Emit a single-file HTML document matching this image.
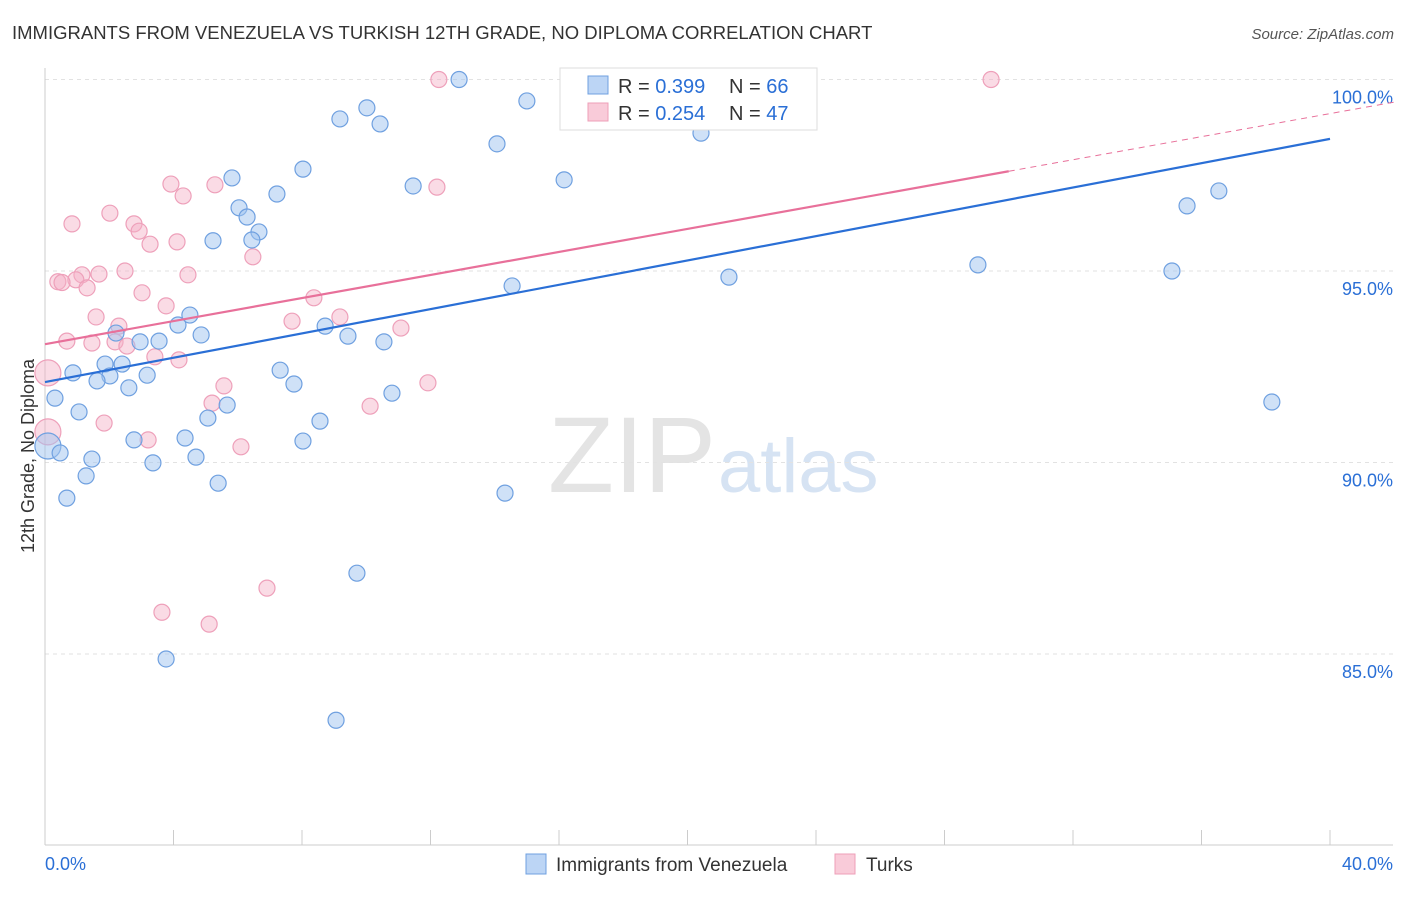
<!DOCTYPE html>
<html><head><meta charset="utf-8"><style>
body{margin:0;background:#fff;font-family:"Liberation Sans",sans-serif;}
svg text{font-family:"Liberation Sans",sans-serif;}
</style></head><body>
<svg id="chart" width="1406" height="892" xmlns="http://www.w3.org/2000/svg">
<text x="12" y="39" font-size="18.5" fill="#333">IMMIGRANTS FROM VENEZUELA VS TURKISH 12TH GRADE, NO DIPLOMA CORRELATION CHART</text>
<text x="1394" y="39" font-size="15" fill="#555" text-anchor="end" font-style="italic">Source: ZipAtlas.com</text>
<text transform="translate(34,456) rotate(-90)" font-size="18" fill="#333" text-anchor="middle">12th Grade, No Diploma</text>
<text x="716" y="492" font-size="108" fill="#e4e4e4" text-anchor="end" font-family="Liberation Serif">ZIP</text>
<text x="718" y="492" font-size="76" fill="#d6e3f3">atlas</text>
<g id="grid"></g><g id="axes"></g><g id="pts"></g><g id="lines"></g>
<g>
<rect x="560" y="68" width="257" height="62" fill="#fff" stroke="#ddd"/>
<rect x="588" y="76" width="20" height="18" fill="#bcd5f5" stroke="#6fa0e0"/>
<text x="618" y="93" font-size="20" fill="#333">R = <tspan fill="#2a6fd6">0.399</tspan></text>
<text x="729" y="93" font-size="20" fill="#333">N = <tspan fill="#2a6fd6">66</tspan></text>
<rect x="588" y="103" width="20" height="18" fill="#f9cbd9" stroke="#ee9fb8"/>
<text x="618" y="120" font-size="20" fill="#333">R = <tspan fill="#2a6fd6">0.254</tspan></text>
<text x="729" y="120" font-size="20" fill="#333">N = <tspan fill="#2a6fd6">47</tspan></text>
</g>
<g>
<rect x="526" y="854" width="20" height="20" fill="#bcd5f5" stroke="#6fa0e0"/>
<text x="556" y="871" font-size="19" fill="#333">Immigrants from Venezuela</text>
<rect x="835" y="854" width="20" height="20" fill="#f9cbd9" stroke="#ee9fb8"/>
<text x="866" y="871" font-size="19" fill="#333">Turks</text>
</g>
</svg>
<script>
const yTicks=[100,95,90,85];
const yTickLabels=["100.0%","95.0%","90.0%","85.0%"];
const xTickLabels=["0.0%","40.0%"];
const blueX=[12.89,21.91,17.21,15.0,10.02,9.18,10.43,14.07,20.42,8.03,5.82,11.46,16.16,7.22,6.04,6.29,6.66,6.44,5.23,36.54,35.55,29.04,21.29,35.08,14.54,4.51,4.14,4.86,2.21,3.55,2.96,8.72,9.43,10.55,1.87,2.40,0.87,2.02,1.62,3.18,7.32,2.61,7.75,0.31,10.80,5.67,1.06,5.07,38.19,8.56,2.77,4.36,8.03,0.09,0.47,1.46,3.36,4.70,1.28,5.39,0.68,14.32,9.71,3.77,9.06];
const blueY=[100,100,100,99.44,99.26,98.97,98.84,98.32,98.60,97.66,97.43,97.22,97.38,97.01,96.65,96.41,96.02,95.81,95.79,97.09,96.70,95.16,94.84,95.0,94.61,93.85,93.59,93.33,93.38,93.17,93.15,93.56,93.30,93.15,92.57,92.57,92.34,92.26,92.13,92.28,92.41,91.95,92.05,91.68,91.81,91.50,91.32,91.16,91.58,91.08,90.59,90.64,90.56,90.43,90.25,90.09,89.99,90.14,89.65,89.46,89.07,89.20,87.11,84.87,83.27];
const pinkX=[12.26,29.45,3.92,5.29,12.20,4.30,2.02,0.84,2.77,2.93,4.11,3.27,6.47,2.49,1.68,1.15,4.45,0.40,0.96,0.53,1.31,3.02,8.37,3.77,1.59,7.69,9.18,2.30,11.08,0.68,2.18,2.55,1.46,3.42,4.17,0.09,5.57,11.92,5.20,10.12,1.84,0.09,3.21,6.10,6.91,3.64,5.11];
const pinkY=[100,100,97.27,97.25,97.19,96.96,96.51,96.23,96.23,96.04,95.76,95.70,95.37,95.0,94.92,94.9,94.9,94.72,94.77,94.70,94.56,94.43,94.30,94.09,93.80,93.69,93.80,93.56,93.51,93.17,93.15,93.04,93.12,92.76,92.68,92.34,92.0,92.08,91.55,91.47,91.03,90.80,90.59,90.41,86.72,86.09,85.78];
const blueLine=[92.1,98.45];
const pinkLine=[93.09,99.41];
const NS="http://www.w3.org/2000/svg";
const sx=v=>45+v*32.125, sy=v=>79.5+(100-v)*38.3;
function mk(p,tag,a){const e=document.createElementNS(NS,tag);for(const k in a)e.setAttribute(k,a[k]);p.appendChild(e);return e;}
const grid=document.getElementById('grid'),axes=document.getElementById('axes'),pts=document.getElementById('pts'),lines=document.getElementById('lines');
yTicks.forEach((t,i)=>{
 const l=mk(grid,'line',{x1:45,x2:1393,y1:sy(t),y2:sy(t),stroke:'#e2e2e2','stroke-dasharray':'4,4'});
 
 
 const tx=mk(axes,'text',{x:1393,y:sy(t)+24,'font-size':18,fill:'#2a6fd6','text-anchor':'end'});tx.textContent=yTickLabels[i];
 
 
});
const ya=mk(axes,'line',{x1:45,x2:45,y1:68,y2:845,stroke:'#ccc'});


const xa=mk(axes,'line',{x1:45,x2:1393,y1:845,y2:845,stroke:'#ccc'});


for(let i=0;i<=10;i++){const t=mk(axes,'line',{x1:sx(i*4),x2:sx(i*4),y1:830,y2:845,stroke:'#ccc'});
 
 }
[[0,'start',45],[40,'end',1393]].forEach((d,i)=>{const t=mk(axes,'text',{x:d[2],y:870,'font-size':18,fill:'#2a6fd6','text-anchor':d[1]});t.textContent=xTickLabels[i];
 
 });
function dots(X,Y,fill,stroke,name){X.forEach((x,i)=>{const r=(x<0.2)?13:8;
 const c=mk(pts,'circle',{cx:sx(x),cy:sy(Y[i]),r:r,fill:fill,stroke:stroke,'stroke-width':1.2});
 
 });}
dots(pinkX,pinkY,'rgba(245,175,198,0.45)','#eea0ba','turks-point');
dots(blueX,blueY,'rgba(160,196,240,0.5)','#6fa0e0','venezuela-point');
const bl=mk(lines,'line',{x1:sx(0),y1:sy(blueLine[0]),x2:sx(40),y2:sy(blueLine[1]),stroke:'#2a6fd6','stroke-width':2.2});


const pAt=x=>pinkLine[0]+(pinkLine[1]-pinkLine[0])*x/42;
const pl=mk(lines,'line',{x1:sx(0),y1:sy(pAt(0)),x2:sx(30),y2:sy(pAt(30)),stroke:'#e8709a','stroke-width':2.2});


const pd=mk(lines,'line',{x1:sx(30),y1:sy(pAt(30)),x2:sx(42),y2:sy(pAt(42)),stroke:'#e8709a','stroke-width':1,'stroke-dasharray':'6,5'});


</script>
</body></html>
